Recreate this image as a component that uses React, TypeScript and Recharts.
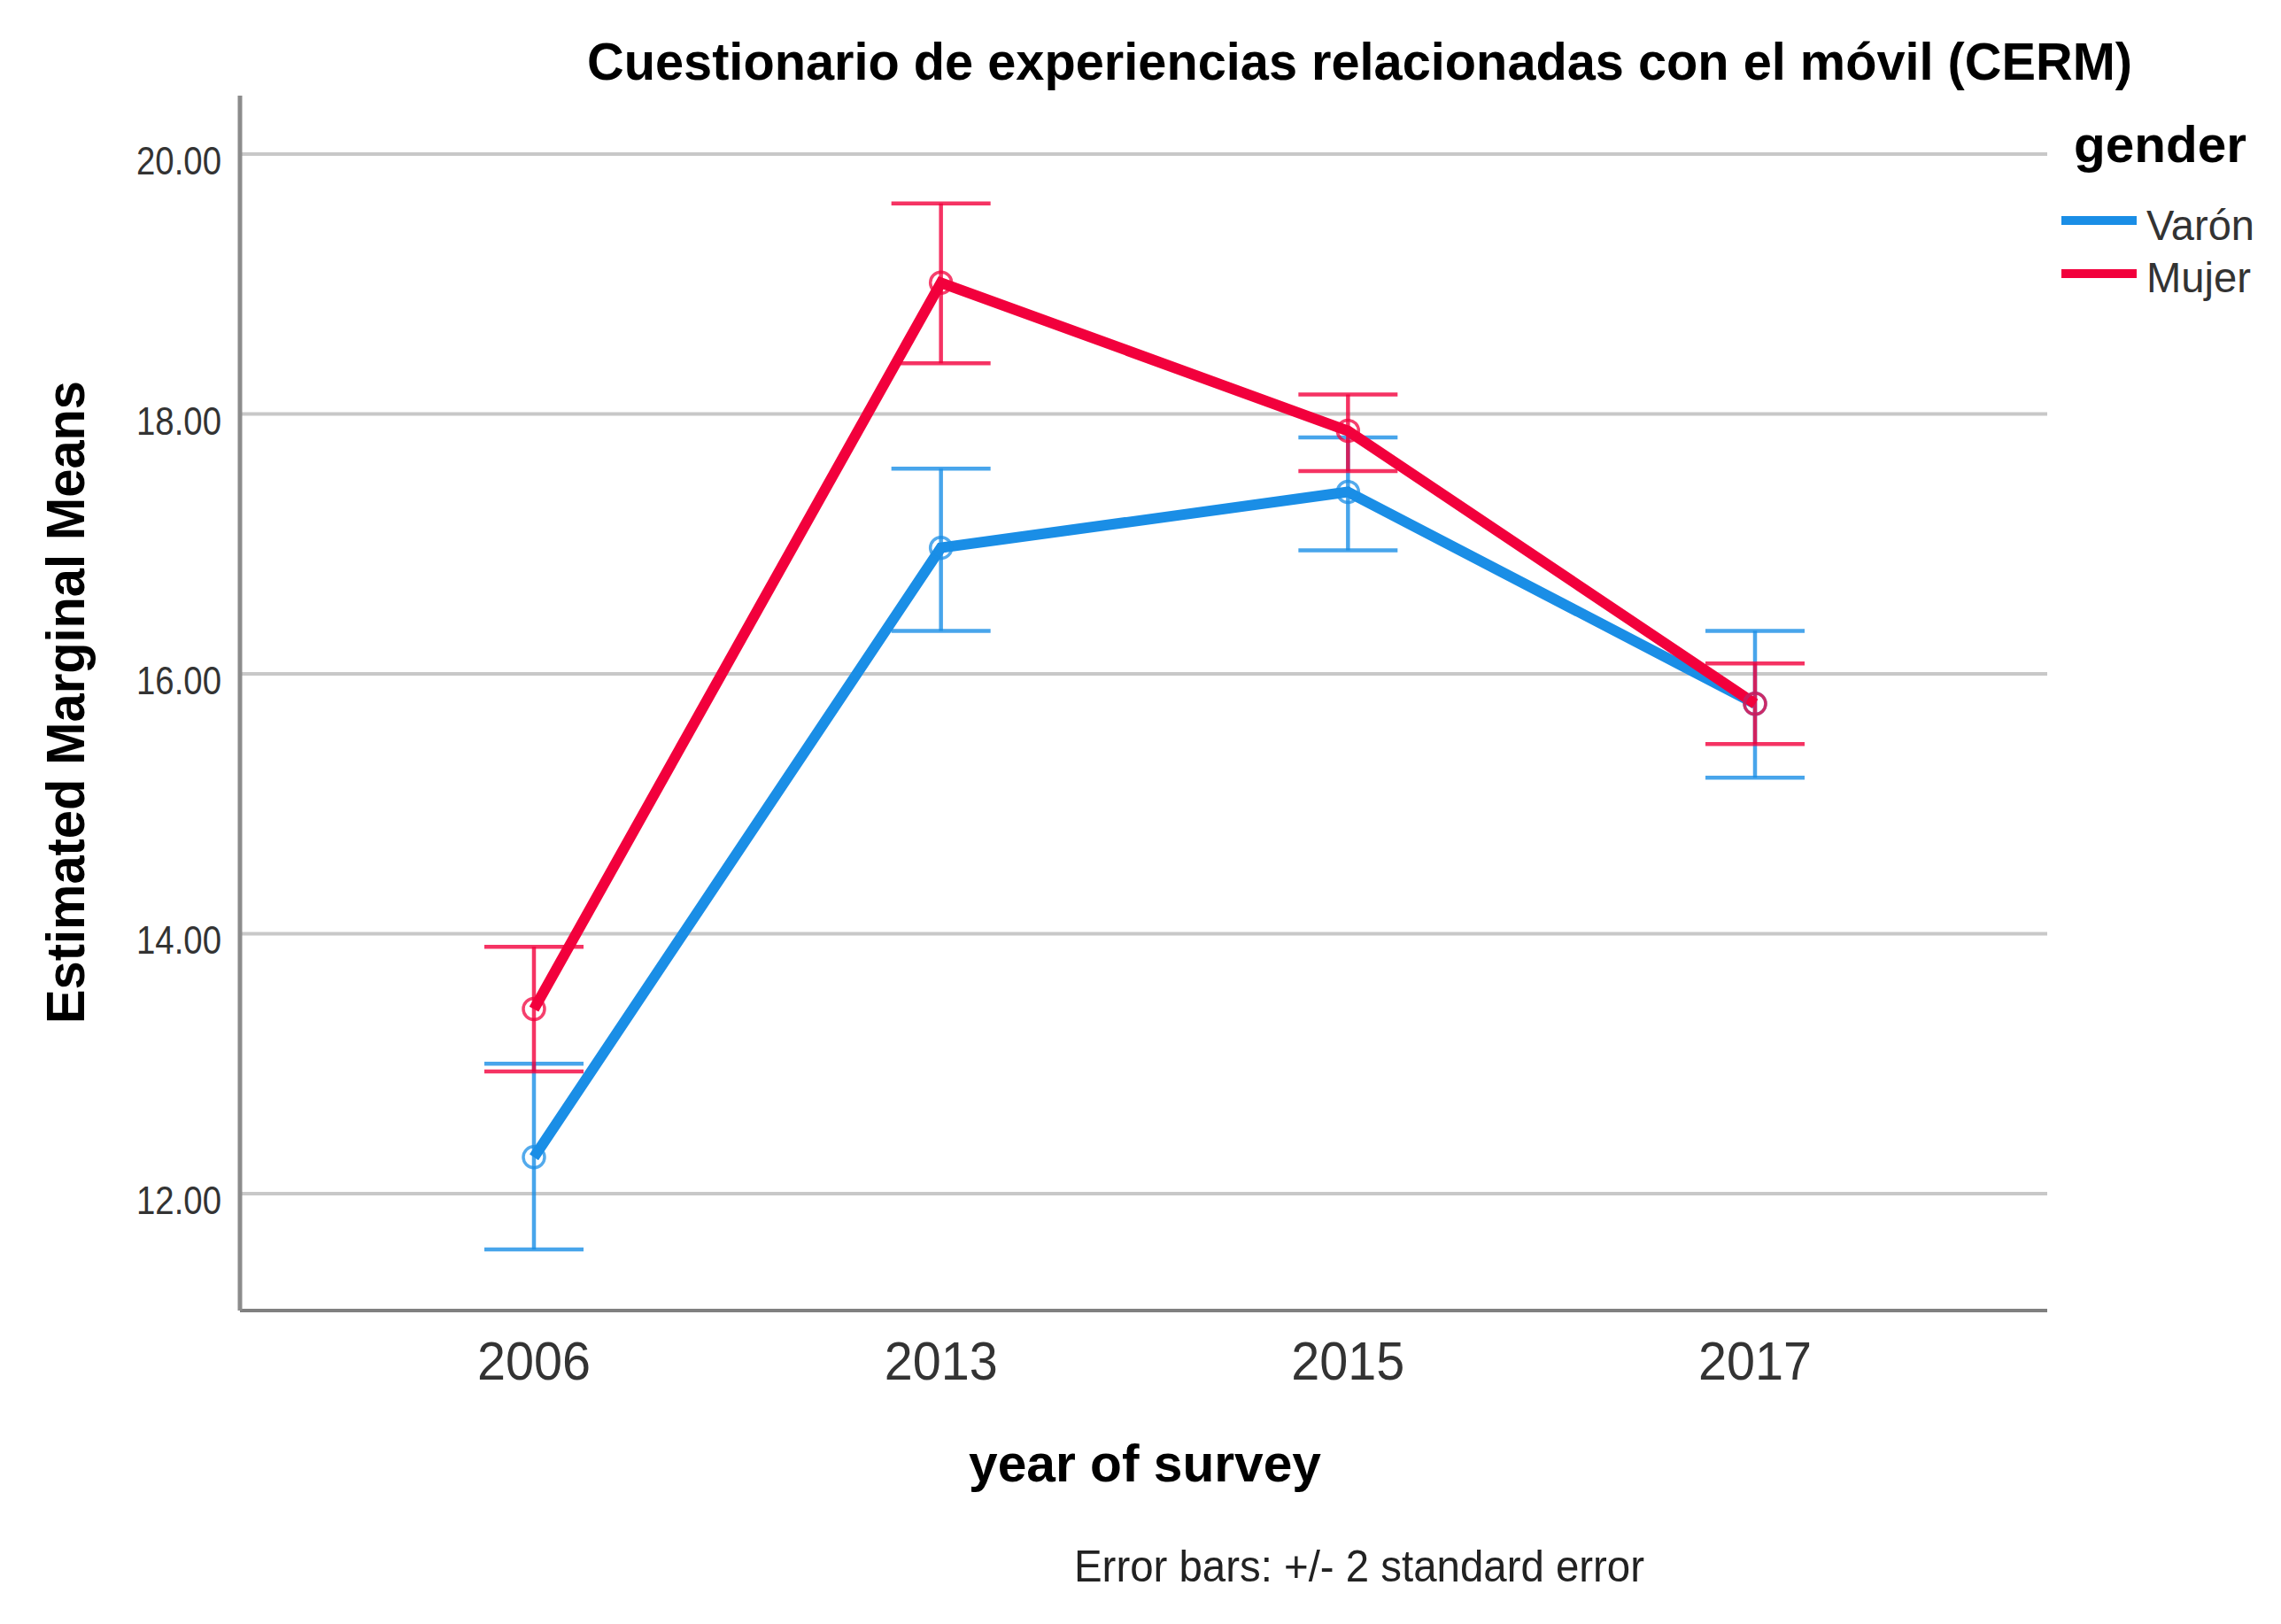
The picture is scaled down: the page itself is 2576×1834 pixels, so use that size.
import React from 'react';
import { LineChart, Line, XAxis, YAxis, CartesianGrid, ErrorBar } from 'recharts';

const FONT = '"Liberation Sans", Arial, sans-serif';
const BLUE = '#1a8ee6';
const RED = '#f2003c';

const years = ['2006', '2013', '2015', '2017'];
const varonMeans = [12.28, 16.97, 17.4, 15.77];
const mujerMeans = [13.42, 19.01, 17.87, 15.77];
const varonLow = [11.57, 16.33, 16.95, 15.2];
const varonHigh = [13.0, 17.58, 17.82, 16.33];
const mujerLow = [12.94, 18.39, 17.56, 15.46];
const mujerHigh = [13.9, 19.62, 18.15, 16.08];
const yTicks = [12, 14, 16, 18, 20];

const data = years.map((year, i) => ({
  year,
  varon: varonMeans[i],
  mujer: mujerMeans[i],
  varonErr: [varonMeans[i] - varonLow[i], varonHigh[i] - varonMeans[i]],
  mujerErr: [mujerMeans[i] - mujerLow[i], mujerHigh[i] - mujerMeans[i]],
}));

function YTick(props: any) {
  const { x, y, payload } = props;
  return (
    <text
      x={x - 21 - 96}
      y={y + 23}
      fontSize={44}
      fill="#333"
      fontFamily={FONT}
      textLength={96}
      lengthAdjust="spacingAndGlyphs"
    >
      {Number(payload.value).toFixed(2)}
    </text>
  );
}

function XTick(props: any) {
  const { x, y, payload } = props;
  return (
    <text
      x={x - 64}
      y={y + 78}
      fontSize={61}
      fill="#333"
      fontFamily={FONT}
      textLength={128}
      lengthAdjust="spacingAndGlyphs"
    >
      {payload.value}
    </text>
  );
}

export default function App() {
  return (
    <div style={{ position: 'absolute', left: 0, top: 0, width: 2576, height: 1834, background: '#fff' }}>
      <LineChart
        width={2576}
        height={1834}
        data={data}
        margin={{ top: 108, right: 264, bottom: 254, left: 121 }}
      >
        <CartesianGrid vertical={false} horizontalValues={yTicks} stroke="#c8c8c8" strokeWidth={4} />
        <XAxis
          dataKey="year"
          height={100}
          padding={{ left: 332, right: 330 }}
          axisLine={{ stroke: '#808080', strokeWidth: 4 }}
          tickLine={false}
          tickSize={0}
          tickMargin={0}
          tick={<XTick />}
        />
        <YAxis
          width={150}
          domain={[11.1, 20.45]}
          ticks={yTicks}
          allowDataOverflow
          axisLine={{ stroke: '#8c8c8c', strokeWidth: 5 }}
          tickLine={false}
          tickSize={0}
          tickMargin={0}
          tick={<YTick />}
        />
        <Line
          dataKey="varon"
          stroke={BLUE}
          strokeWidth={12}
          dot={{ r: 12, stroke: BLUE, strokeWidth: 3.5, fill: 'none', strokeOpacity: 0.75 }}
          activeDot={false}
          isAnimationActive={false}
        >
          <ErrorBar dataKey="varonErr" direction="y" width={56} strokeWidth={4.5} stroke={BLUE} strokeOpacity={0.8} />
        </Line>
        <Line
          dataKey="mujer"
          stroke={RED}
          strokeWidth={12}
          dot={{ r: 12, stroke: RED, strokeWidth: 3.5, fill: 'none', strokeOpacity: 0.75 }}
          activeDot={false}
          isAnimationActive={false}
        >
          <ErrorBar dataKey="mujerErr" direction="y" width={56} strokeWidth={4.5} stroke={RED} strokeOpacity={0.8} />
        </Line>
      </LineChart>

      <svg
        width={2576}
        height={1834}
        style={{ position: 'absolute', left: 0, top: 0, pointerEvents: 'none' }}
        fontFamily={FONT}
      >
        <text x={663} y={90} fontSize={60} fontWeight="bold" fill="#000" textLength={1745} lengthAdjust="spacingAndGlyphs">
          Cuestionario de experiencias relacionadas con el móvil (CERM)
        </text>
        <text
          transform="translate(95, 1156) rotate(-90)"
          x={0}
          y={0}
          fontSize={62}
          fontWeight="bold"
          fill="#000"
          textLength={726}
          lengthAdjust="spacingAndGlyphs"
        >
          Estimated Marginal Means
        </text>
        <text x={1094} y={1673} fontSize={59} fontWeight="bold" fill="#000" textLength={398} lengthAdjust="spacingAndGlyphs">
          year of survey
        </text>
        <text x={1213} y={1786} fontSize={50} fill="#222" textLength={644} lengthAdjust="spacingAndGlyphs">
          Error bars: +/- 2 standard error
        </text>

        <text x={2342} y={183} fontSize={58} fontWeight="bold" fill="#000" textLength={195} lengthAdjust="spacingAndGlyphs">
          gender
        </text>
        <line x1={2328} x2={2413} y1={249} y2={249} stroke={BLUE} strokeWidth={10} />
        <text x={2424} y={271} fontSize={48} fill="#333" textLength={122} lengthAdjust="spacingAndGlyphs">
          Varón
        </text>
        <line x1={2328} x2={2413} y1={309} y2={309} stroke={RED} strokeWidth={10} />
        <text x={2424} y={330} fontSize={48} fill="#333" textLength={118} lengthAdjust="spacingAndGlyphs">
          Mujer
        </text>
      </svg>
    </div>
  );
}
